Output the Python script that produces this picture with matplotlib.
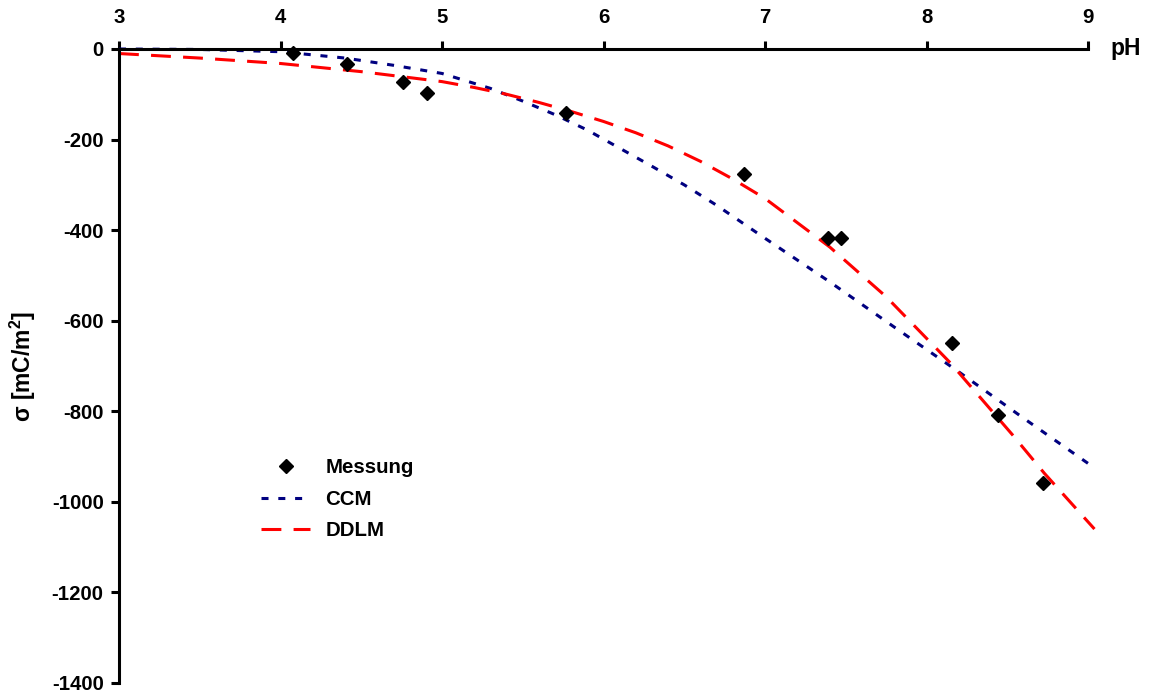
import matplotlib
matplotlib.use("Agg")
import matplotlib.pyplot as plt

plt.rcParams['font.family'] = ['Liberation Sans', 'DejaVu Sans']
plt.rcParams['font.weight'] = 'bold'
plt.rcParams['mathtext.fontset'] = 'custom'
plt.rcParams['mathtext.rm'] = 'Liberation Sans:bold'
plt.rcParams['mathtext.bf'] = 'Liberation Sans:bold'
plt.rcParams['mathtext.default'] = 'bf'

# Measured points (Messung)
meas_ph = [4.08, 4.41, 4.76, 4.91, 5.77, 6.87, 7.39, 7.47, 8.16, 8.44, 8.72]
meas_sigma = [-9, -33, -73, -97, -141, -276, -418, -418, -650, -809, -958]

# CCM model curve
ccm_ph = [3.0, 3.5, 4.0, 4.4, 4.7, 5.0, 5.3, 5.5, 5.7, 5.9, 6.1, 6.3, 6.5, 6.7,
          7.0, 7.4, 7.8, 8.2, 8.6, 9.0]
ccm_sigma = [0, -1, -6, -20, -36, -54, -87, -115, -145, -179, -219, -259, -300,
             -345, -418, -514, -614, -713, -815, -915]

# DDLM model curve
ddlm_ph = [3.0, 3.5, 4.0, 4.5, 5.0, 5.2, 5.4, 5.6, 5.8, 6.0, 6.2, 6.4, 6.6,
           6.8, 7.0, 7.4, 7.75, 8.15, 8.53, 8.73, 9.04]
ddlm_sigma = [-10, -20, -32, -50, -72, -85, -100, -118, -138, -160, -185, -214,
              -248, -287, -330, -437, -547, -694, -851, -937, -1060]

x_ticks = [3, 4, 5, 6, 7, 8, 9]
y_ticks = [0, -200, -400, -600, -800, -1000, -1200, -1400]

FS = 14.7
FS_BIG = 16.5

fig = plt.figure(figsize=(11.49, 6.93), dpi=100)
ax = fig.add_axes([119/1149, 1-683/693, 969/1149, (683-49)/693])

ax.plot(ccm_ph, ccm_sigma, color='#000080', lw=2.2, dashes=(2.3, 3.2),
        label='CCM', clip_on=False)
ax.plot(ddlm_ph, ddlm_sigma, color='#FF0000', lw=2.2, dashes=(6.5, 4),
        label='DDLM', clip_on=False)
ax.plot(meas_ph, meas_sigma, linestyle='none', marker='D', ms=7.5,
        color='black', label='Messung', clip_on=False, zorder=5)

ax.set_xlim(3, 9)
ax.set_ylim(-1400, 0)
ax.set_xticks(x_ticks)
ax.set_yticks(y_ticks)
ax.set_xticklabels([str(v) for v in x_ticks])
ax.set_yticklabels([str(v) for v in y_ticks])

ax.xaxis.tick_top()
for s in ['right', 'bottom']:
    ax.spines[s].set_visible(False)
for s in ['left', 'top']:
    ax.spines[s].set_linewidth(2.2)
ax.tick_params(axis='x', direction='out', length=6, width=2.2, pad=10,
               labelsize=FS)
ax.tick_params(axis='y', direction='out', length=6, width=2.2, pad=5,
               labelsize=FS)
for lab in ax.get_xticklabels() + ax.get_yticklabels():
    lab.set_fontweight('bold')

ax.set_ylabel(r'σ [mC/m$^{\mathbf{2}}$]', fontsize=FS_BIG, fontweight='bold')
ax.yaxis.set_label_coords(-0.084, 0.5)

ax.text(1.0227, 1.0, 'pH', transform=ax.transAxes, ha='left', va='center',
        fontsize=FS_BIG, fontweight='bold')

handles, labels = ax.get_legend_handles_labels()
order = [2, 0, 1]
leg = ax.legend([handles[i] for i in order], [labels[i] for i in order],
                loc='upper left', bbox_to_anchor=(261/1149, 1-458/693),
                bbox_transform=fig.transFigure, frameon=False, borderpad=0,
                borderaxespad=0, handlelength=2.4, handletextpad=0.75,
                labelspacing=0.62, numpoints=1,
                prop={'size': FS, 'weight': 'bold'})

fig.savefig('out.png', dpi=100)
